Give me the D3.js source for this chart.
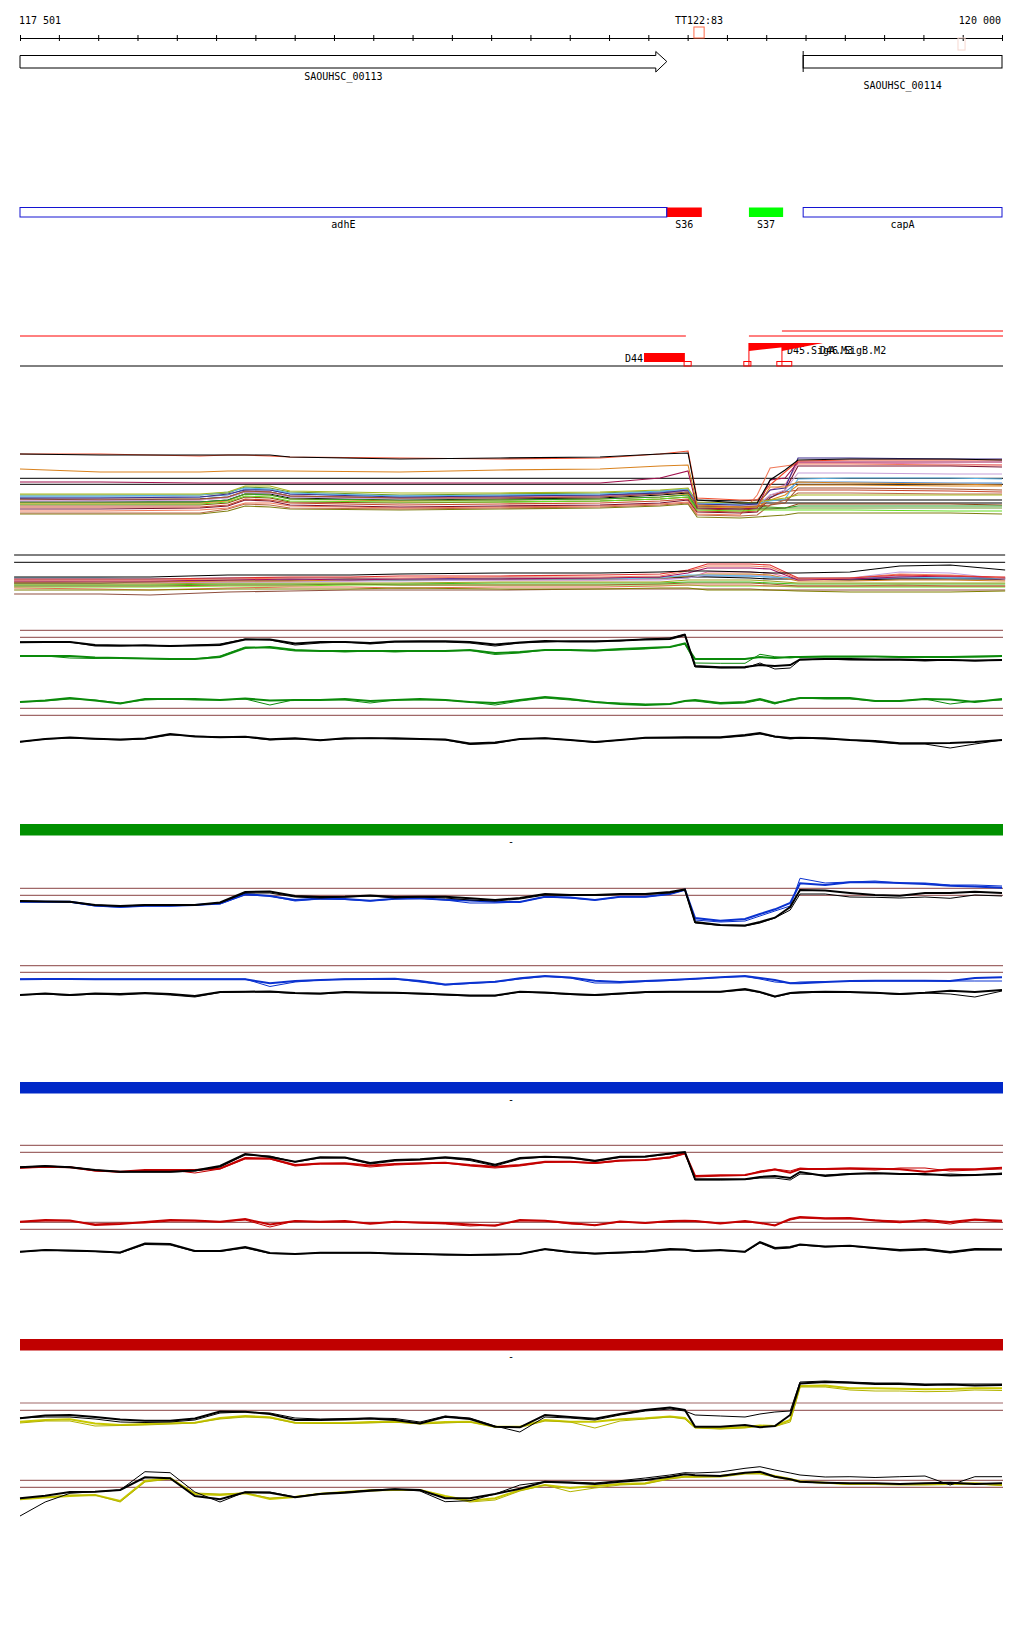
<!DOCTYPE html>
<html>
<head>
<meta charset="utf-8">
<script src="https://cdn.jsdelivr.net/npm/d3@7/dist/d3.min.js"></script>
<style>
html,body{margin:0;padding:0;background:#fff;}
svg{display:block;}
text{font-family:"DejaVu Sans Mono","Liberation Mono",monospace;font-size:10px;fill:#000;}
</style>
</head>
<body>
<svg id="chart" width="1024" height="1640"></svg>
<script>
// ================= DATA =================
const viewStart = 117501, viewEnd = 120000;
const axisLabels = ["117 501", "120 000"];
const tickStep = 100;

const markerNames = ["TT122:83", ""];
const markerStarts = [119216, 119888];
const markerEnds = [119242, 119906];

const geneNames = ["SAOUHSC_00113", "SAOUHSC_00114"];
const geneStarts = [116900, 119494];
const geneEnds = [119147, 120600];

const featNames = ["adhE", "S36", "S37", "capA"];
const featStarts = [116900, 119147, 119356, 119494];
const featEnds = [119147, 119236, 119443, 120600];

const covLowSegs = [[116900, 119193], [119356, 120600]];
const covHighSegs = [[119440, 120600]];
const promoterNames = ["D44", "D45.SigA.M3", "D46.SigB.M2"];
const promoterStarts = [119089, 119356, 119440];
const promoterEnds = [119193, 119544, 119544];
const tssStarts = [119191, 119343, 119427];
const tssEnds = [119209, 119361, 119465];

// track 4 : many conditions
const t4Pos = [117501,117705,117959,118030,118074,118137,118188,118468,118723,118977,119130,119201,119224,119333,119377,119410,119448,119481,119613,119868,120000];
const t4Ref = [41.7, 35.7];
const t4Values = [
 [66,65,65,65,65,65,63,61,62,63,66,67,20,17,17,40,50,60,61,61,60],
 [66,66,64,65,65,64,63,62,61,62,66,69,22,20,20,35,48,59,60,60,60],
 [51,48,48,49,49,49,49,48,50,51,54,55,15,13,13,33,33,38,37,36,35],
 [38,38,37,37,37,37,37,37,37,37,42,49,12,11,12,40,42,58,58,58,58],
 [26,26,26,28,34,34,29,27,27,28,30,32,18,17,18,20,22,25,25,25,25],
 [24,24,25,28,32,31,27,24,25,26,29,31,17,16,17,19,21,41,42,42,41],
 [22,22,23,26,30,30,26,23,24,25,27,30,16,15,16,30,32,62,62,61,61],
 [21,21,21,23,29,28,24,22,22,23,26,28,14,13,14,15,17,32,32,31,30],
 [19,19,20,22,28,27,23,21,22,23,26,29,15,14,15,25,30,47,47,46,46],
 [18,18,18,20,26,25,21,20,20,21,23,25,12,11,12,12,12,14,14,14,14],
 [17,17,17,19,26,25,21,19,20,21,23,26,13,12,13,20,25,35,35,34,34],
 [16,16,16,18,24,23,19,18,18,19,21,23,10,9,10,10,10,10,10,9,9],
 [15,15,15,17,23,22,18,17,18,19,21,23,11,10,11,11,12,16,16,16,15],
 [13,13,13,15,21,20,17,15,16,17,19,21,9,8,9,25,28,30,30,29,28],
 [11,11,12,14,20,19,15,13,14,15,17,20,8,7,8,22,30,54,54,54,53],
 [9,9,10,12,17,17,14,12,13,14,16,18,6,5,25,52,54,56,56,55,55],
 [7,7,7,11,16,15,12,11,12,13,15,17,5,4,5,15,20,27,27,26,26],
 [6,6,6,9,14,13,11,10,11,12,14,16,3,2,3,4,5,7,7,7,6],
 [20,20,20,23,29,28,24,22,23,24,27,30,17,16,17,30,35,57,57,56,55],
 [23,23,23,25,31,30,26,24,24,25,28,30,16,15,16,23,28,38,38,37,37],
 [25,25,25,27,33,32,28,25,26,27,29,31,14,13,14,13,12,12,12,12,12],
 [21,20,21,23,28,28,24,22,23,24,27,29,20,19,20,20,20,20,20,20,20],
 [18,18,18,20,26,26,22,20,21,22,25,27,17,17,17,17,17,17,17,17,17]
];

// track 5
const t5Pos = [117486,117705,117832,118030,118188,118341,118468,118723,118977,119130,119201,119250,119359,119410,119481,119613,119740,119868,120008];
const t5Ref = [55, 47.7];
const t5Values = [
 [33,33,33,35,35,35,36,37,37,38,39,39,38,37,37,38,44,45,40],
 [31,31,31,32,33,33,34,34,35,36,40,46,46,45,32,32,35,34,33],
 [30,30,30,31,32,32,32,33,33,34,39,44,44,43,31,32,36,35,32],
 [29,29,29,30,31,30,31,31,32,33,37,42,42,41,30,31,33,34,32],
 [32,32,31,31,31,30,30,31,31,32,35,35,34,33,32,32,33,32,32],
 [28,28,28,29,29,30,30,31,31,32,34,36,36,35,29,29,30,30,29],
 [29,28,28,28,28,29,29,30,30,30,32,35,35,34,30,32,38,37,31],
 [26,26,26,27,27,27,27,28,28,28,30,30,30,29,27,27,27,27,27],
 [25,25,25,26,26,26,26,27,27,27,28,28,28,27,26,26,26,26,26],
 [24,24,24,25,25,26,25,25,25,26,27,27,27,26,24,24,24,24,24],
 [20,20,20,21,21,21,22,21,21,22,22,20,20,20,19,18,18,18,19],
 [16,16,15,18,19,20,20,20,21,21,21,21,21,20,20,20,20,20,20],
 [22,21,20,22,23,23,22,23,23,24,25,25,25,24,24,24,25,24,24],
 [27,27,28,30,30,31,30,31,31,32,33,33,32,31,31,30,31,31,31],
 [31,31,31,32,32,32,31,32,32,33,34,34,34,33,31,31,32,32,32],
 [23,23,23,24,24,25,25,25,25,25,25,24,24,24,23,23,23,23,23],
 [27,27,27,28,29,29,30,30,30,31,32,38,38,37,30,32,34,33,30]
];

// paired profile tracks
const pairPos = [117501,117565,117628,117692,117756,117819,117883,117946,118010,118074,118137,118201,118265,118328,118392,118455,118519,118583,118646,118710,118773,118837,118901,118964,119028,119092,119155,119193,119219,119283,119346,119384,119422,119461,119486,119550,119613,119677,119740,119804,119868,119931,120000];
const pairRefs = [[59.7,52.7],[51.7,44.7],[51.7,44.7],[44.3,37.7],[54.7,47.7],[42.7,35.7],[47,39.7],[44.7,37.7]];

const g1aColThick = [34,34,34,32.5,32,31.5,31,31,33,42,43,40,39,39,39,39,39,39,40,37,38,40,40,39.5,41,42,43,46.5,31,31,31,33,32,33,33,33.5,33.5,33.5,33,33,33,33.5,34];
const g1aColThin = [34,34,32,31.5,32,31.5,31,31,34,43,42,39,39,38,39,38,39,39,39.5,35.5,37,40,39.5,39,40,41,43,46,27,26.7,26.7,35.7,33.3,32,33,33,33,33.5,33,32.5,33,33,33.5];
const g1aBlkThick = [47.7,48,48,45,44.5,44.5,44,44.5,45,50.5,50.5,46.5,48,48,47,48.5,48.7,48.7,48,45.5,47.5,49,48.5,48.5,49.5,50.5,51,55,24,22.7,23,25,24,25,30.5,31,31,30.5,30.5,30,30,29.5,30];
const g1aBlkThin = [48,48,48,44,44,45,44,45,46,51,50,45,47,48,46,48,48,48,47,44,47,48,49,49,49,51,52,56,23,22,22,27,21,22,30,31,30,30,30,29,30,29,30];

const g1bColThick = [58,59.5,62,59.5,56.5,61,61,61,60,61.5,59.5,60,60,61,59,60,61,60,58,57,60,63,61,58,56,55,56,59,60,57,58,61,57,60,62,62,62,59,59,61,60.5,58,61];
const g1bColThin = [58,59,61,60,57,60,61,60,60,61,55,60.5,60,60,57,60,60,60,58,55,59,62,60,58,57,56,56,59,59,56,57,60,56,61,62,61,61,59,59,61,56,59,60];
const g1bBlkThick = [18.3,21,22.5,21.3,20.5,21.5,26,23.5,22.7,23.3,20.7,21.7,19.7,21.7,21.7,21.7,21,20.5,16.5,17.5,21,21.7,20,18,20,22.3,22.5,22.7,22.7,22.7,25,27,23.5,22,22.3,21.7,20,19,16.7,16.7,17,18,20];
const g1bBlkThin = [18,21,22,21,20,21,25,24,23,23,20,21,20,21,22,21,21,20,15.5,16.5,21,22,20,17.5,20,22,22,22,22,22,24,26,23,21,22,21,20,18,16,16,12,16,20];

const g2aColThick = [38.3,38.3,38.3,34.5,33,34.3,34.3,35,36.5,46,44,40,41.5,41,39.3,41.3,41.7,40.3,39.5,38.3,38,43.3,42.5,40,43.3,43.3,46,50.3,22,19.3,21,26,30.7,37,56.7,55,57.7,57.7,57,56,54.3,53.5,52.3];
const g2aColThin = [38,38,38,34,33,34,34,35,36,45,44,39,41,40.5,39,41,41.5,40,37,37,38,43,42,40,43,43,46,50,20,18,19,24,29,34,61.7,57,58,59,57,57,55,55,54];
const g2aBlkThick = [39,38.5,38.3,35,34,35,35,35,37.5,48,48.5,44,43,43.3,44.5,43,43.3,43.3,41.7,40,42,46,45,45,46,46,48,50.7,18,15,14.5,18,22.3,33,50,49.5,47,45,44.3,47,47,48.3,47];
const g2aBlkThin = [39,38.5,38,35,34,35,35,35,37,47,47,43,42,43,44,42,43,42,40,39,41,45,44.5,44.5,45.5,45.5,47,50,17,14.5,14,17,22,30,46,46,43,42.7,42,43,41.7,45,44];

const g2bColThick = [30.7,31,31,30.7,30.7,30.7,30.7,30.7,30.7,30.7,26.7,29,30,30.7,31,31.3,29,25.5,27,28.3,31.7,34,32.5,29.3,28,29,30,30.7,31.3,32.7,34,32,30,26.7,26.7,28,29,29.3,29.3,29.3,29,32,32.7];
const g2bColThin = [31,31,31,31,31,31,31,31,31,31,23.5,28,30,31,31,31,28,25,26.5,28,31,33.5,32,27,27,28.5,29.5,30.5,31,32.5,33.5,31,28,27,28,28.5,28.5,29,29,29,29,29,29];
const g2bBlkThick = [15,16.5,15,16.5,16,17,16,14,18,18.3,18.5,17,16.5,18,17.5,17.3,16.5,15.5,14.5,14.5,18.3,17.5,16,15,16.5,18,18.3,18.3,18.3,18.3,21,18,13.5,17,17.7,18.3,18,17.3,16,17.3,19.3,18,20];
const g2bBlkThin = [15,16,14.5,16,15,16.5,15,13,17.5,18,18,16.5,16,17.5,17,17,16,15,14,14,18,17,15.5,14.5,16,17.5,18,18,18,18,20,17.5,13,16.5,17,18,17.5,17,15.5,17,16,13,19];

const g3aColThick = [32.3,33.3,32.7,29.5,28.3,30,30,30,31.5,42,41.5,35,36.5,36.7,34.5,36,36.7,37.3,35,33.3,35,38.3,38.3,37,39.5,40,42.7,47,24,24.7,25,28,30.5,27.3,31,31,31.7,31.3,30.7,28.3,30.7,30.7,32.3];
const g3aColThin = [32,33,33,29,28,29.5,30,27,31,41,41,34,36,36,33,35,36,37,34,32,34,37.5,38,36.5,39,40,42,46,23,24,24.5,29,31,29,32,30.5,31,30,32,32,29,30,31];
const g3aBlkThick = [32.7,34,32.7,30,28.3,28.3,28.3,29.5,34,46,43,38.3,42.7,42.5,37,40,40.7,42.7,40.7,35.3,42,43.3,42.5,39.3,43.3,43.5,46.5,48,20.7,20.7,20.7,23,24,22,28,24,26,26.7,26,26,24.5,25,26];
const g3aBlkThin = [33,34,33,30,28,28,28,29,33,45,44,38,42,42,36,39,40,42,39.5,34,41,43,42,38.5,42.5,43,46,47.5,20,20,20.5,22,22,20,26,25,26.5,27,26.5,25,26,25,27];

const g3bColThick = [43.3,45,44.5,40,41,43,45,44.5,43.3,46,40.5,44,43.3,44,41.3,43.3,42.5,42,40.5,39.3,45,44.3,42,39.7,43.5,42,44,44.3,44,41.5,44,42,39.5,46,48,46.7,47,44.5,42.7,45,43,45.5,44.3];
const g3bColThin = [43,44,44,41,42,42,44,44,43,45,38,44,43,43,42,43,42,41,39,40,44,44,41,40,43,42,43,44,44,42,43,42,40,45,47,46,46,45,44,44,41,45,43];
const g3bBlkThick = [13.3,15,14.5,13.7,12.5,21.5,21,14,14,18,12,11,12.3,12.3,12.3,11.5,11,10.5,10,10.5,11,16,13,11.5,12.5,13.5,16,15.5,14,15,13.3,23,17,18,20.5,18.5,19.3,17,15,16,13,16,15.7];
const g3bBlkThin = [13,15,14,13.5,12,20.5,20,13.5,13.5,17,11.5,11,12,12,12,11,11,10,10,10,11,15.5,12.5,11,12,13,15,15,13.5,14.5,13,22,16,17,20,18,19,16.5,14,15,12,15,15];

const g4aColThick = [28.3,30,30.7,26.5,25,26,26.7,27.3,32,34,32.7,27.3,27,27,28,28.3,26.7,28,28.3,23.3,23.3,30,28.3,28.3,30.7,31.7,33.5,32,22.7,21.7,23,24.5,24,30,64,64.5,61.7,61.7,61.3,60.7,61,61.7,61.7];
const g4aColThin = [27,29,29,24,24.5,25,26,27,31,33,32,27,26.5,26.5,27,28,26,27,28,23,22.5,29,28,22,29,31,33,31,22,21,22,24,23.5,28,63,63,60,59,59,58.3,58.7,60,59.5];
const g4aBlkThick = [31.7,34.5,35,33,30.5,29.3,29.3,31.5,38.5,38.3,36,30,30,30.5,31.5,30,26.5,33.3,31,23.3,22.7,35,33,31.3,36,40,42.5,40,23.3,23.3,25,22.7,24,35,66.5,68,67.3,66,66,65,65.5,64.5,65];
const g4aBlkThin = [32,33,33,31,28,27.5,28,30,37,38,37,32,31,31.5,32,31.5,28,34,32,24,18,33,32,30,35,39,41,39,35,34,33,36,38,39,68,69,68,67,67,66,66,66,66];

const g4bColThick = [25.7,27.5,29,30,24,44,47,31,30,31.7,26,28,31.3,33,34.7,35,35,29,24.3,26.7,35,40,37,39,41,41.7,47,48.3,48.3,49,52,52,49,46,43.7,42.3,41,41,41,41,41,41.7,40];
const g4bColThin = [26,28,30,30,23,43,46,32,31,32,27,28.5,31,33,34,35,34.5,28,23,25,34,40,33.3,37,40,41,46,48,48,48,51,51,48,45,43,42,40.5,40.5,40,40,40.5,41,39.5];
const g4bBlkThick = [26.7,29.3,33,33.3,35,47.7,46.7,29,25.7,32.7,32.3,27.7,31,32.3,34.3,35.7,35,26.7,26.7,31,36.3,43.3,42.3,41,43.3,45,48.3,50.7,49.7,49,52.3,53.3,48.3,45.7,43.3,42.3,41.7,41.7,41,41.7,42.3,41,41.7];
const g4bBlkThin = [9,23,31.7,33.3,35,53.3,52.3,33,23,33,33,28,31.5,33,35,36,34,23.3,24.3,31,40,43.3,43,42,44.3,47,50,52.3,52,53,56.7,58.3,55,52,50,48,48.3,47.5,48.3,49,40,48.3,48.3];

const groupLabels = ["-", "-", "-"];

// ================= STYLES / LAYOUT =================
const t4Colors = ["#000000","#f04a2a","#d9821e","#a0104e","#a8b820","#5ab4e6","#3c2c8c","#a0522d","#c8a0d8","#2ca02c","#e08a1e","#66dd22","#8b4513","#c8462a","#7a1030","#f07a5a","#b86a48","#7f7f10","#e07aa8","#4a8ad0","#6a9a2a","#000000","#000000"];
const t5Colors = ["#000000","#e03030","#f08060","#a01060","#60c0e8","#d08020","#c0a0e0","#a0a020","#40c020","#a06030","#808000","#905040","#e07050","#000000","#4060c0","#70e020","#e070a0"];
const groupColors = ["#0a8a0a", "#0a32d0", "#c40000", "#c8c800"];
const groupThinColors = ["#0a8a0a", "#0a32d0", "#c40000", "#b4b400"];
const barColors = ["#009000", "#0028c8", "#c00000"];
const barTops = [824, 1082, 1339];
const pairBases = [690, 760, 940, 1010, 1200, 1265, 1450, 1525];
const refColor = "#a06868";

// ================= DRAW =================
const svg = d3.select("#chart");
const x = d3.scaleLinear().domain([viewStart, viewEnd]).range([20, 1002]);
const cx = v => x(Math.max(viewStart, Math.min(viewEnd, v)));

// --- axis
const tickVals = [viewStart].concat(d3.range(117600, viewEnd + 1, tickStep));
const axisG = svg.append("g").attr("transform", "translate(0,38)")
  .call(d3.axisBottom(x).tickValues(tickVals).tickSize(3).tickSizeOuter(0).tickFormat(""));
axisG.select(".domain").attr("stroke", "#000");
axisG.selectAll(".tick line").attr("y1", -3).attr("y2", 3).attr("stroke", "#000");
svg.append("text").attr("x", x(viewStart) - 1).attr("y", 24).text(axisLabels[0]);
svg.append("text").attr("x", x(viewEnd) - 1).attr("y", 24).attr("text-anchor", "end").text(axisLabels[1]);
svg.append("rect").attr("x", cx(markerStarts[0])).attr("y", 27).attr("width", cx(markerEnds[0]) - cx(markerStarts[0])).attr("height", 11)
  .attr("fill", "none").attr("stroke", "#ff6a48");
svg.append("text").attr("x", (cx(markerStarts[0]) + cx(markerEnds[0])) / 2).attr("y", 24).attr("text-anchor", "middle").text(markerNames[0]);
svg.append("rect").attr("x", cx(markerStarts[1])).attr("y", 38).attr("width", cx(markerEnds[1]) - cx(markerStarts[1])).attr("height", 12)
  .attr("fill", "none").attr("stroke", "#f6d8d0");

// --- genes
geneNames.forEach((nm, i) => {
  const x0 = cx(geneStarts[i]), x1 = cx(geneEnds[i]);
  const g = svg.append("g");
  if (geneEnds[i] < viewEnd) {
    const xh = x1 - 11;
    g.append("path").attr("d", `M${x0},55.5H${xh}V51.5L${x1},61.5L${xh},72V68H${x0}Z`)
      .attr("fill", "#fff").attr("stroke", "#000");
  } else {
    g.append("rect").attr("x", x0).attr("y", 55.5).attr("width", x1 - x0).attr("height", 12.5).attr("fill", "#fff").attr("stroke", "#000");
  }
  if (geneStarts[i] > viewStart) {
    g.append("line").attr("x1", x0).attr("x2", x0).attr("y1", 51).attr("y2", 72).attr("stroke", "#000");
  }
  g.append("text").attr("x", (x0 + x1) / 2).attr("y", i === 0 ? 80 : 89).attr("text-anchor", "middle").text(nm);
});

// --- features track
const featFill = ["#fff", "#ff0000", "#00ff00", "#fff"];
const featStroke = ["#1414d2", "none", "none", "#1414d2"];
featNames.forEach((nm, i) => {
  const x0 = cx(featStarts[i]), x1 = cx(featEnds[i]);
  svg.append("rect").attr("x", x0).attr("y", 207.5).attr("width", x1 - x0).attr("height", 9.5)
    .attr("fill", featFill[i]).attr("stroke", featStroke[i]);
  svg.append("text").attr("x", (x0 + x1) / 2).attr("y", 228).attr("text-anchor", "middle").text(nm);
});
// redraw adhE right edge over S36
svg.append("line").attr("x1", cx(featEnds[0])).attr("x2", cx(featEnds[0])).attr("y1", 207).attr("y2", 217).attr("stroke", "#1414d2");

// --- promoter track
covLowSegs.forEach(s => svg.append("line").attr("x1", cx(s[0])).attr("x2", cx(s[1]) + 1).attr("y1", 336).attr("y2", 336).attr("stroke", "#ff0000"));
covHighSegs.forEach(s => svg.append("line").attr("x1", cx(s[0])).attr("x2", cx(s[1]) + 1).attr("y1", 331).attr("y2", 331).attr("stroke", "#ff0000"));
svg.append("line").attr("x1", cx(viewStart)).attr("x2", cx(viewEnd) + 1).attr("y1", 366).attr("y2", 366).attr("stroke", "#000");
// D44 bar
svg.append("rect").attr("x", cx(promoterStarts[0])).attr("y", 353).attr("width", cx(promoterEnds[0]) - cx(promoterStarts[0])).attr("height", 9).attr("fill", "#ff0000");
svg.append("text").attr("x", cx(promoterStarts[0]) - 1).attr("y", 362).attr("text-anchor", "end").text(promoterNames[0]);
// wedges
[1, 2].forEach(i => {
  const x0 = cx(promoterStarts[i]), x1 = cx(promoterEnds[i]);
  svg.append("path").attr("d", `M${x0},343L${x1},343L${x0},351Z`).attr("fill", "#ff0000");
  svg.append("line").attr("x1", x0).attr("x2", x0).attr("y1", 343).attr("y2", 366).attr("stroke", "#ff0000");
  svg.append("text").attr("x", x0 + 38).attr("y", 354).text(promoterNames[i]);
});
tssStarts.forEach((s, i) => {
  svg.append("rect").attr("x", cx(s)).attr("y", 361.5).attr("width", cx(tssEnds[i]) - cx(s)).attr("height", 4.5)
    .attr("fill", "none").attr("stroke", "#ff0000");
});

// --- track 4
const y4 = d3.scaleLinear().domain([0, 100]).range([520, 420]);
const line4 = d3.line().x((d, i) => x(t4Pos[i])).y(d => y4(d));
t4Ref.forEach(v => svg.append("line").attr("x1", x(viewStart)).attr("x2", x(viewEnd) + 1).attr("y1", y4(v)).attr("y2", y4(v)).attr("stroke", "#000"));
const t4Order = d3.range(t4Values.length).reverse();
t4Order.forEach(k => svg.append("path").attr("d", line4(t4Values[k])).attr("fill", "none").attr("stroke", t4Colors[k]).attr("stroke-width", 1.1));

// --- track 5
const y5 = d3.scaleLinear().domain([0, 100]).range([610, 510]);
const line5 = d3.line().x((d, i) => x(t5Pos[i])).y(d => y5(d));
t5Ref.forEach(v => svg.append("line").attr("x1", x(t5Pos[0])).attr("x2", x(t5Pos[t5Pos.length - 1])).attr("y1", y5(v)).attr("y2", y5(v)).attr("stroke", "#000"));
d3.range(t5Values.length).reverse().forEach(k => svg.append("path").attr("d", line5(t5Values[k])).attr("fill", "none").attr("stroke", t5Colors[k]).attr("stroke-width", 1.1));

// --- paired tracks
const pairSeries = [
  [g1aColThick, g1aColThin, g1aBlkThick, g1aBlkThin],
  [g1bColThick, g1bColThin, g1bBlkThick, g1bBlkThin],
  [g2aColThick, g2aColThin, g2aBlkThick, g2aBlkThin],
  [g2bColThick, g2bColThin, g2bBlkThick, g2bBlkThin],
  [g3aColThick, g3aColThin, g3aBlkThick, g3aBlkThin],
  [g3bColThick, g3bColThin, g3bBlkThick, g3bBlkThin],
  [g4aColThick, g4aColThin, g4aBlkThick, g4aBlkThin],
  [g4bColThick, g4bColThin, g4bBlkThick, g4bBlkThin]
];
pairSeries.forEach((ser, s) => {
  const grp = Math.floor(s / 2);
  const yS = d3.scaleLinear().domain([0, 100]).range([pairBases[s], pairBases[s] - 100]);
  const ln = d3.line().x((d, i) => x(pairPos[i])).y(d => yS(d));
  pairRefs[s].forEach(v => svg.append("line").attr("x1", x(viewStart)).attr("x2", x(viewEnd) + 1)
    .attr("y1", yS(v)).attr("y2", yS(v)).attr("stroke", refColor).attr("stroke-width", 1.2));
  const cols = [groupColors[grp], groupThinColors[grp], "#000", "#000"];
  const widths = [2, 1, 2, 1];
  [0, 1, 2, 3].forEach(j => svg.append("path").attr("d", ln(ser[j])).attr("fill", "none")
    .attr("stroke", cols[j]).attr("stroke-width", widths[j]));
});

// --- group bars
barColors.forEach((c, i) => {
  svg.append("rect").attr("x", x(viewStart)).attr("y", barTops[i]).attr("width", x(viewEnd) + 1 - x(viewStart)).attr("height", 11.5).attr("fill", c);
  svg.append("text").attr("x", (x(viewStart) + x(viewEnd)) / 2).attr("y", barTops[i] + 21).attr("text-anchor", "middle").text(groupLabels[i]);
});
</script>
</body>
</html>
